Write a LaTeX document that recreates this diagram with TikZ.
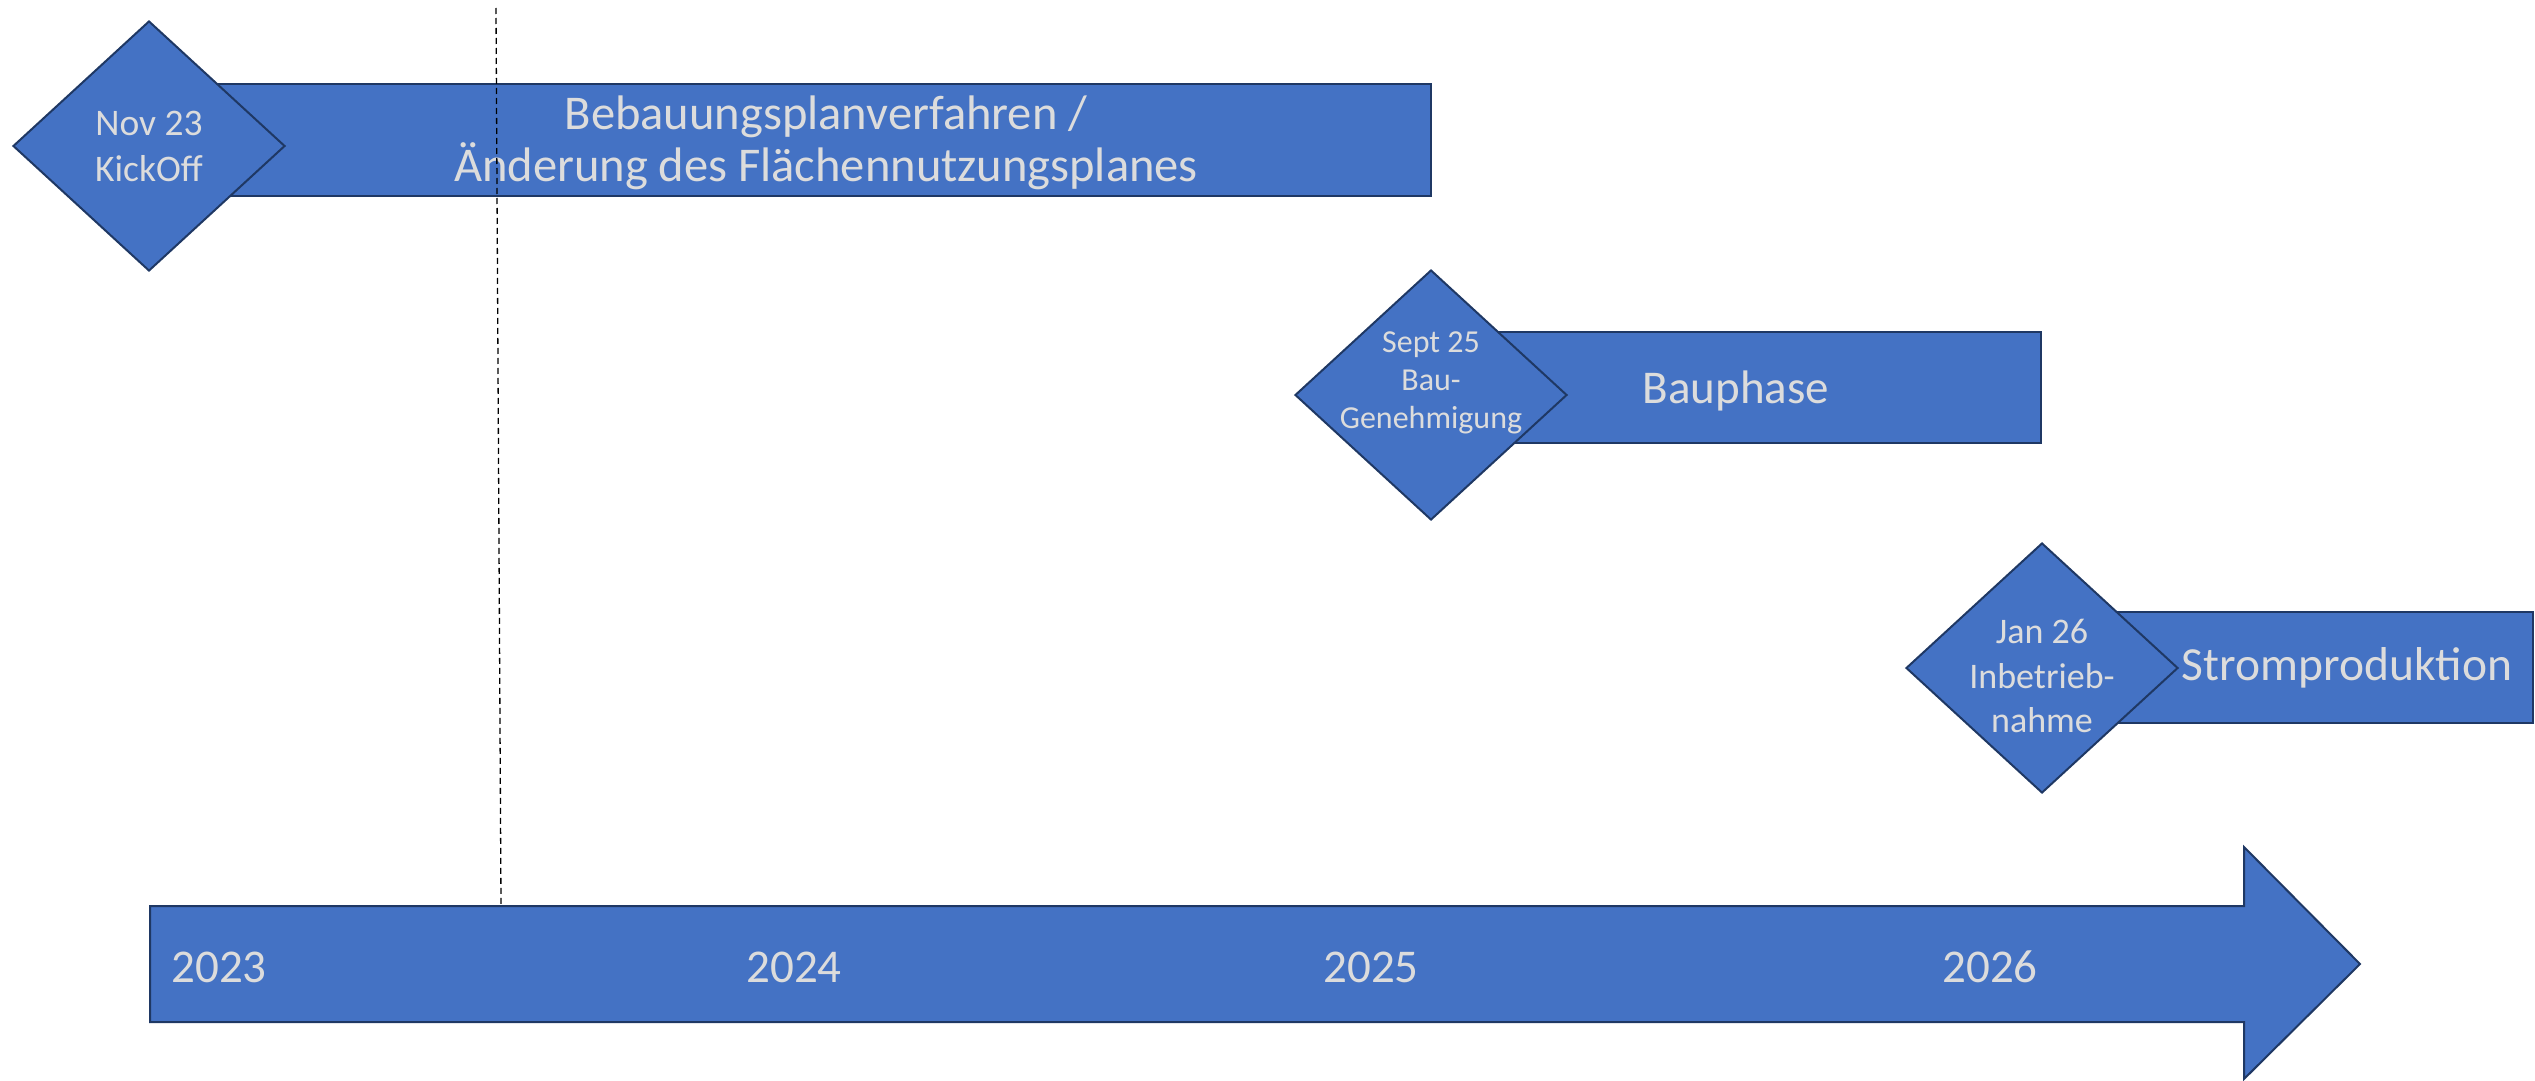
\documentclass[tikz,border=0pt]{standalone}
\usepackage{fontspec}
\setmainfont{Carlito}
\usetikzlibrary{shapes.geometric}
\definecolor{fillblue}{HTML}{4472C4}
\definecolor{edgeblue}{HTML}{1F3864}
\definecolor{txtgray}{HTML}{DCDCDC}
\tikzset{
  milestone/.style={diamond, draw=edgeblue, fill=fillblue, line width=2pt,
    minimum width=272pt, minimum height=250pt, inner sep=0pt, aspect=1.088},
  phasebar/.style={rectangle, draw=edgeblue, fill=fillblue, line width=2pt, inner sep=0pt},
  lbl/.style={text=txtgray, align=center, inner sep=0pt},
  timearrow/.style={draw=edgeblue, fill=fillblue, line width=2pt, line join=miter},
}
\begin{document}
\begin{tikzpicture}[x=1pt,y=-1pt]
\useasboundingbox (0,0) rectangle (2535,1081);
% phase bars
\node[phasebar, minimum width=1282pt, minimum height=112pt] (bar1) at (790,140) {};
\node[phasebar, minimum width=610pt, minimum height=111pt] (bar2) at (1736,387.5) {};
\node[phasebar, minimum width=491pt, minimum height=111pt] (bar3) at (2287.5,667.5) {};
% phase labels
\node[lbl, font=\fontsize{48.5}{52}\selectfont] (t1) at (826,143) {Bebauungsplanverfahren /\\Änderung des Flächennutzungsplanes};
\node[lbl, font=\fontsize{47}{56}\selectfont] (t2) at (1736,391) {Bauphase};
\node[lbl, font=\fontsize{47.5}{56}\selectfont] (t3) at (2347,668) {Stromproduktion};
% time arrow
\path[timearrow] (150,906) -- (2244,906) -- (2244,847) -- (2360,964) -- (2244,1079) -- (2244,1022) -- (150,1022) -- cycle;
\node[lbl, font=\fontsize{47}{55}\selectfont] (y23) at (219,967) {2023};
\node[lbl, font=\fontsize{47}{55}\selectfont] (y24) at (794,967) {2024};
\node[lbl, font=\fontsize{47}{55}\selectfont] (y25) at (1371,967) {2025};
\node[lbl, font=\fontsize{47}{55}\selectfont] (y26) at (1990,967) {2026};
% dashed marker
\coordinate (dtop) at (496,8);
\coordinate (dbot) at (501,905);
\draw[black, line width=1.3pt, dash pattern=on 6pt off 4pt] (dtop) -- (dbot);
% milestones
\node[milestone] (m1) at (149,146) {};
\node[milestone] (m2) at (1431,395) {};
\node[milestone] (m3) at (2042,668) {};
\node[lbl, font=\fontsize{37.5}{46}\selectfont] (m1t) at (149,146) {Nov 23\\KickOff};
\node[lbl, font=\fontsize{32}{38}\selectfont] (m2t) at (1431,383) {Sept 25\\Bau-\\Genehmigung};
\node[lbl, font=\fontsize{36}{44.5}\selectfont] (m3t) at (2042,676) {Jan 26\\Inbetrieb-\\nahme};
\end{tikzpicture}
\end{document}
